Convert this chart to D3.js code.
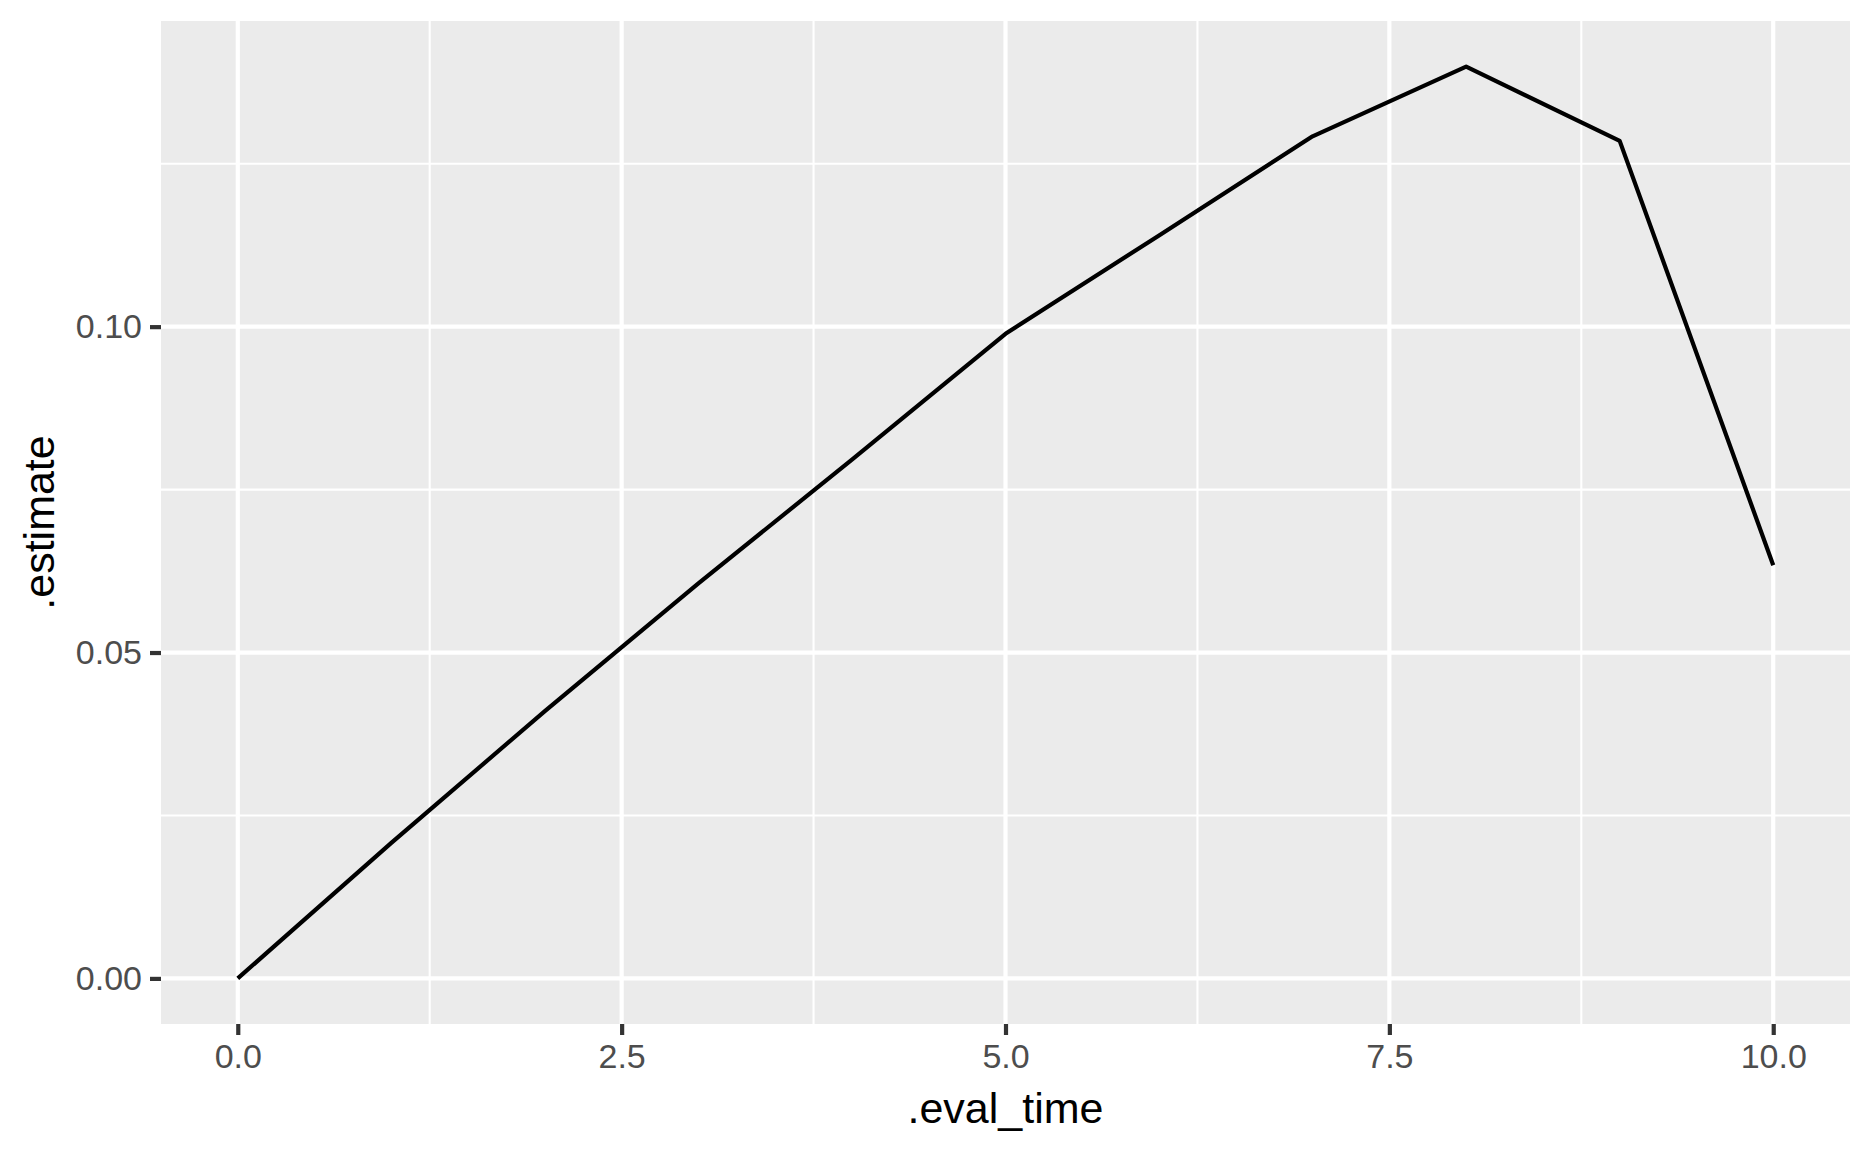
<!DOCTYPE html>
<html>
<head>
<meta charset="utf-8">
<script src="https://cdn.jsdelivr.net/npm/d3@7"></script>
<style>
  body { margin: 0; background: #fff; }
  svg { display: block; font-family: "Liberation Sans", Arial, sans-serif; }
</style>
</head>
<body>
<svg id="chart"></svg>
<script>
const evalTime = [0, 1, 2, 3, 4, 5, 6, 7, 8, 9, 10];
const estimate = [0, 0.0208, 0.0410, 0.0606, 0.0796, 0.0989, 0.1140, 0.1292, 0.1399, 0.1285, 0.0634];
const xTicks = [0, 2.5, 5, 7.5, 10];
const xMinor = [1.25, 3.75, 6.25, 8.75];
const yTicks = [0, 0.05, 0.1];
const yMinor = [0.025, 0.075, 0.125];

const data = evalTime.map((t, i) => ({ t: t, v: estimate[i] }));

const W = 1872, H = 1152;
const margin = { top: 21, right: 22, bottom: 128, left: 161 };
const width = W - margin.left - margin.right;
const height = H - margin.top - margin.bottom;

const svg = d3.select("#chart").attr("width", W).attr("height", H);
const g = svg.append("g").attr("transform", `translate(${margin.left},${margin.top})`);

// ggplot-style 5% expansion
const xExt = d3.extent(evalTime), yExt = d3.extent(estimate);
const xPad = (xExt[1] - xExt[0]) * 0.05, yPad = (yExt[1] - yExt[0]) * 0.05;

const xScale = d3.scaleLinear().domain([xExt[0] - xPad, xExt[1] + xPad]).range([0, width]);
const yScale = d3.scaleLinear().domain([yExt[0] - yPad, yExt[1] + yPad]).range([height, 0]);

g.append("rect").attr("width", width).attr("height", height).attr("fill", "#EBEBEB");

// grid
g.selectAll(".xminor").data(xMinor).enter().append("line")
  .attr("x1", d => xScale(d)).attr("x2", d => xScale(d))
  .attr("y1", 0).attr("y2", height)
  .attr("stroke", "#fff").attr("stroke-width", 2.1);
g.selectAll(".yminor").data(yMinor).enter().append("line")
  .attr("y1", d => yScale(d)).attr("y2", d => yScale(d))
  .attr("x1", 0).attr("x2", width)
  .attr("stroke", "#fff").attr("stroke-width", 2.1);
g.selectAll(".xmajor").data(xTicks).enter().append("line")
  .attr("x1", d => xScale(d)).attr("x2", d => xScale(d))
  .attr("y1", 0).attr("y2", height)
  .attr("stroke", "#fff").attr("stroke-width", 4.2);
g.selectAll(".ymajor").data(yTicks).enter().append("line")
  .attr("y1", d => yScale(d)).attr("y2", d => yScale(d))
  .attr("x1", 0).attr("x2", width)
  .attr("stroke", "#fff").attr("stroke-width", 4.2);

// line
const line = d3.line().x(d => xScale(d.t)).y(d => yScale(d.v));
g.append("path").datum(data)
  .attr("d", line)
  .attr("fill", "none")
  .attr("stroke", "#000")
  .attr("stroke-width", 4.2)
  .attr("stroke-linejoin", "round");

// axes
const xAxis = d3.axisBottom(xScale).tickValues(xTicks).tickFormat(d3.format(".1f"))
  .tickSizeInner(11).tickSizeOuter(0).tickPadding(9);
const yAxis = d3.axisLeft(yScale).tickValues(yTicks).tickFormat(d3.format(".2f"))
  .tickSizeInner(11).tickSizeOuter(0).tickPadding(8);

const gx = g.append("g").attr("transform", `translate(0,${height})`).call(xAxis);
const gy = g.append("g").call(yAxis);

[gx, gy].forEach(a => {
  a.select(".domain").remove();
  a.selectAll(".tick line").attr("stroke", "#333333").attr("stroke-width", 4.2);
  a.selectAll(".tick text").attr("fill", "#4D4D4D").style("font-size", "34px");
});
gx.selectAll(".tick text").attr("dy", "0.71em");

svg.append("text")
  .attr("x", margin.left + width / 2)
  .attr("y", 1123)
  .attr("text-anchor", "middle")
  .style("font-size", "43px")
  .attr("fill", "#000")
  .text(".eval_time");

svg.append("text")
  .attr("transform", `translate(54,${margin.top + height / 2}) rotate(-90)`)
  .attr("text-anchor", "middle")
  .style("font-size", "43px")
  .attr("fill", "#000")
  .text(".estimate");
</script>
</body>
</html>
